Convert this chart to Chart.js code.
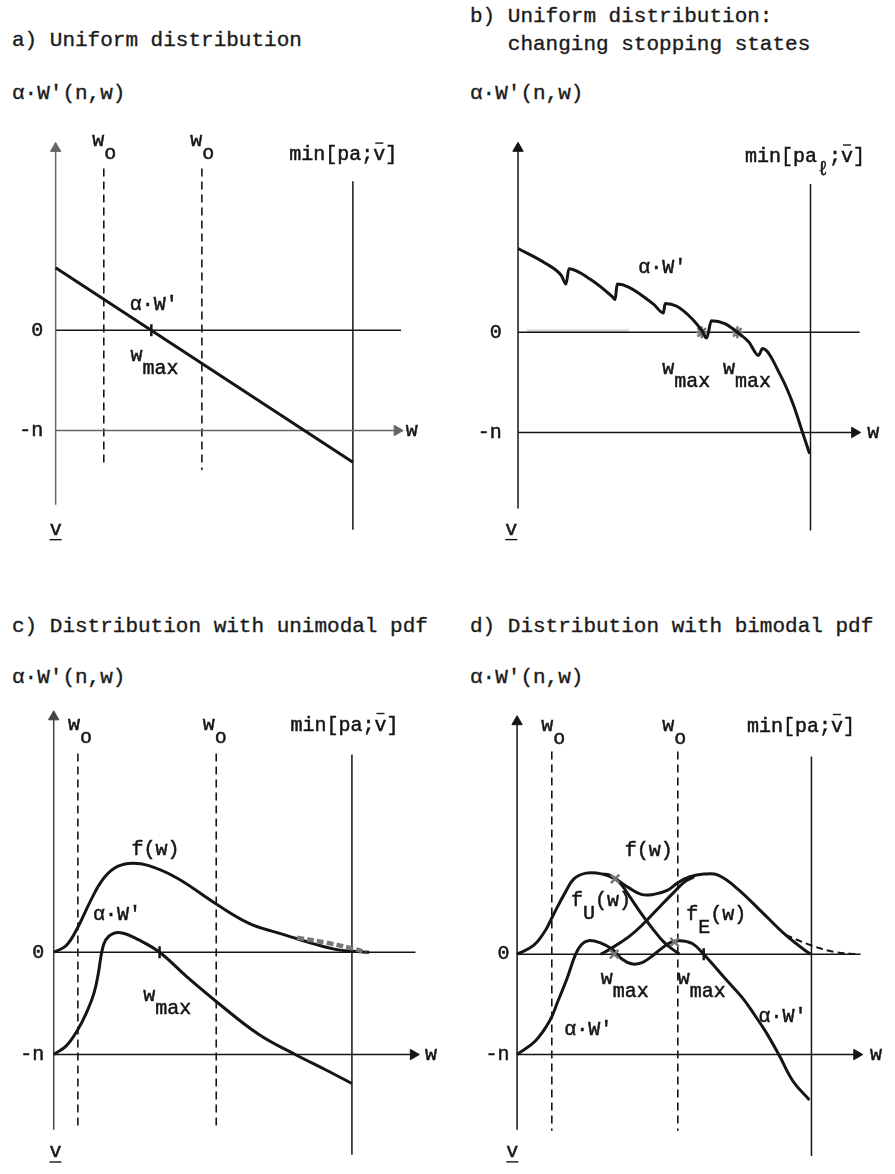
<!DOCTYPE html>
<html>
<head>
<meta charset="utf-8">
<script src="https://cdn.jsdelivr.net/npm/chart.js@4.4.0/dist/chart.umd.min.js"></script>
<style>
  body { margin: 0; background: #fff; width: 895px; height: 1174px; position: relative; overflow: hidden;
         font-family: "Liberation Mono", "Courier New", monospace; color: #1a1a1a; }
  .t { position: absolute; font-size: 21px; line-height: 24px; white-space: pre; -webkit-text-stroke: 0.35px #1a1a1a; }
  canvas { position: absolute; }
</style>
</head>
<body>
<div class="t" style="left:12px; top:29px">a) Uniform distribution</div>
<div class="t" style="left:470px; top:5px">b) Uniform distribution:</div>
<div class="t" style="left:470px; top:33px">   changing stopping states</div>
<div class="t" style="left:12px; top:82px">α·W'(n,w)</div>
<div class="t" style="left:470px; top:82px">α·W'(n,w)</div>
<div class="t" style="left:12px; top:615px">c) Distribution with unimodal pdf</div>
<div class="t" style="left:470px; top:615px">d) Distribution with bimodal pdf</div>
<div class="t" style="left:12px; top:666px">α·W'(n,w)</div>
<div class="t" style="left:470px; top:666px">α·W'(n,w)</div>

<canvas id="chartA" width="447" height="460" style="left:0; top:110px"></canvas>
<canvas id="chartB" width="448" height="460" style="left:447px; top:110px"></canvas>
<canvas id="chartC" width="447" height="484" style="left:0; top:690px"></canvas>
<canvas id="chartD" width="448" height="484" style="left:447px; top:690px"></canvas>

<script>
// w is measured so that the v-axis is 0 and min[pa;v] is 1; y so that 0 is 0 and -n is -1

// a) uniform distribution
const aWx = [0, 1];
const aWy = [0.625, -1.317];
const aWo = [0.162, 0.492];
const aWmax = [0.322];

// b) changing stopping states (saw-tooth curve)
const bWx = [0.000, 0.092, 0.148, 0.164, 0.174, 0.247, 0.322, 0.332, 0.339, 0.378, 0.464, 0.497, 0.503,
             0.543, 0.595, 0.628, 0.645, 0.661, 0.707, 0.750, 0.789, 0.822, 0.836, 0.898, 0.941, 0.974, 0.997];
const bWy = [0.837, 0.692, 0.567, 0.481, 0.635, 0.529, 0.356, 0.327, 0.481, 0.452, 0.279, 0.192, 0.288,
             0.260, 0.135, 0.019, -0.058, 0.115, 0.087, 0.000, -0.096, -0.231, -0.163, -0.433, -0.721, -1.010, -1.212];
const bWmax = [0.628, 0.750];

// c) unimodal pdf
const cFx = [0, 0.042, 0.081, 0.123, 0.161, 0.203, 0.252, 0.316, 0.413, 0.545, 0.655, 0.752, 0.816, 0.881, 0.945, 1.0, 1.058];
const cFy = [0, 0.066, 0.245, 0.5, 0.698, 0.821, 0.868, 0.849, 0.726, 0.472, 0.283, 0.189, 0.132, 0.075, 0.028, 0.009, 0];
const cTailX = [0.816, 0.913, 1.0, 1.048];
const cTailY = [0.142, 0.094, 0.038, 0];
const cWx = [0, 0.042, 0.081, 0.110, 0.135, 0.150, 0.161, 0.174, 0.197, 0.229, 0.284, 0.355, 0.445, 0.545, 0.687, 0.810, 0.913, 1.0];
const cWy = [-1, -0.915, -0.755, -0.590, -0.400, -0.200, 0, 0.120, 0.179, 0.189, 0.123, 0, -0.236, -0.481, -0.802, -1, -1.151, -1.283];
const cWo = [0.081, 0.545];
const cWmax = [0.355];

// d) bimodal pdf
const dFx = [0, 0.056, 0.095, 0.114, 0.137, 0.160, 0.193, 0.235, 0.291, 0.333, 0.379, 0.422, 0.464, 0.510,
             0.546, 0.585, 0.634, 0.683, 0.748, 0.837, 0.912, 0.987, 1.0];
const dFy = [0, 0.087, 0.231, 0.337, 0.471, 0.596, 0.750, 0.808, 0.798, 0.750, 0.663, 0.596, 0.596, 0.635,
             0.712, 0.769, 0.798, 0.788, 0.654, 0.404, 0.192, 0.019, 0];
const dFuX = [0.291, 0.314, 0.346, 0.382, 0.422, 0.464, 0.497, 0.529, 0.552];
const dFuY = [0.798, 0.788, 0.721, 0.577, 0.404, 0.240, 0.125, 0.048, 0];
const dFeX = [0.284, 0.314, 0.379, 0.431, 0.487, 0.529, 0.569, 0.601];
const dFeY = [0, 0.048, 0.173, 0.308, 0.481, 0.606, 0.721, 0.769];
const dTailX = [0.912, 1.0, 1.085, 1.157];
const dTailY = [0.192, 0.087, 0.019, 0];
const dWx = [0, 0.062, 0.111, 0.137, 0.170, 0.199, 0.219, 0.242, 0.281, 0.324, 0.356, 0.389, 0.422, 0.454, 0.487,
             0.520, 0.552, 0.595, 0.634, 0.709, 0.765, 0.807, 0.846, 0.889, 0.938, 0.993];
const dWy = [-1, -0.865, -0.663, -0.481, -0.240, 0, 0.096, 0.135, 0.115, 0.048, -0.048, -0.096, -0.087, -0.029, 0.048,
             0.115, 0.135, 0.106, 0, -0.250, -0.433, -0.606, -0.779, -1, -1.269, -1.452];
const dWo = [0.118, 0.546];
const dWmax = [0.634];
const dGrayMarksX = [0.330, 0.535, 0.333];
const dGrayMarksY = [0, 0.120, 0.750];

const FONT = '20px "Liberation Mono", "Courier New", monospace';
const INK = '#151515';

function pts(xs, ys) {
    return xs.map((x, i) => ({ x: x, y: ys[i] }));
}

// smooth curve through the read points
function curve(xs, ys, extra) {
    return Object.assign({ data: pts(xs, ys), borderColor: INK, borderWidth: 3, tension: 0.4 }, extra);
}

function seg(x1, y1, x2, y2, extra) {
    return Object.assign({ data: [{ x: x1, y: y1 }, { x: x2, y: y2 }], borderColor: INK, borderWidth: 1.5 }, extra);
}

// line with a filled triangle at its end point
function arrow(x1, y1, x2, y2, rot, color) {
    return seg(x1, y1, x2, y2, {
        borderColor: color, pointRadius: [0, 6], pointStyle: 'triangle', pointRotation: rot,
        pointBackgroundColor: color, pointBorderColor: color, pointBorderWidth: 1
    });
}

function dashed(x, yTop, yBottom) {
    return seg(x, yTop, x, yBottom, { borderDash: [8, 5], borderWidth: 1.6 });
}

function ticks(xs, ys, color, style) {
    return {
        data: pts(xs, ys), showLine: false, pointStyle: style || 'line', pointRotation: style ? 0 : 90,
        pointRadius: 6, pointBorderWidth: 2.5, pointBorderColor: color || INK, pointBackgroundColor: color || INK
    };
}

// text helpers: parts are drawn one after another, subscripts lower
function T(x, y, text, align) { return { x: x, y: y, align: align, parts: [{ t: text }] }; }
function Wsub(x, y, sub) { return { x: x, y: y, parts: [{ t: 'w' }, { t: sub, sub: true }] }; }
function V(x, y) { return { x: x, y: y, align: 'center', parts: [{ t: 'v', under: true }] }; }

const labelPlugin = {
    id: 'panelLabels',
    afterDraw(chart, args, opts) {
        const ctx = chart.ctx, sx = chart.scales.x, sy = chart.scales.y;
        ctx.save();
        ctx.font = FONT;
        ctx.fillStyle = INK;
        ctx.strokeStyle = INK;
        ctx.textBaseline = 'middle';
        ctx.textAlign = 'left';
        (opts.items || []).forEach(item => {
            let total = 0;
            item.parts.forEach(p => total += ctx.measureText(p.t).width);
            let px = sx.getPixelForValue(item.x);
            const py = sy.getPixelForValue(item.y);
            if (item.align === 'right') px -= total;
            if (item.align === 'center') px -= total / 2;
            item.parts.forEach(p => {
                const w = ctx.measureText(p.t).width;
                const ty = py + (p.sub ? 13 : 0);
                ctx.lineWidth = 0.5;
                ctx.fillText(p.t, px, ty);
                ctx.strokeText(p.t, px, ty);
                ctx.lineWidth = 1.4;
                if (p.bar !== undefined) {
                    const bx = px + ctx.measureText(p.t.slice(0, p.bar)).width;
                    const cw = ctx.measureText(p.t[p.bar]).width;
                    ctx.beginPath(); ctx.moveTo(bx + 2, ty - 12); ctx.lineTo(bx + cw - 2, ty - 12); ctx.stroke();
                }
                if (p.under) {
                    ctx.beginPath(); ctx.moveTo(px, ty + 10); ctx.lineTo(px + w, ty + 10); ctx.stroke();
                }
                px += w;
            });
        });
        ctx.restore();
    }
};

// anchors in page pixels: canvas box, pixel of w=0 / w=1, pixel of 0 / -n
function makeChart(id, a, datasets, items) {
    const ux = a.x1 - a.x0, uy = a.yn - a.y0;
    return new Chart(document.getElementById(id), {
        type: 'scatter',
        data: { datasets: datasets.map(d => Object.assign({ showLine: true, fill: false, pointRadius: 0 }, d)) },
        options: {
            responsive: false,
            animation: false,
            events: [],
            layout: { padding: 0 },
            plugins: { legend: { display: false }, tooltip: { enabled: false }, panelLabels: { items: items } },
            scales: {
                x: { type: 'linear', display: false, min: (a.left - a.x0) / ux, max: (a.left + a.width - a.x0) / ux },
                y: { type: 'linear', display: false, min: (a.y0 - (a.top + a.height)) / uy, max: (a.y0 - a.top) / uy }
            }
        },
        plugins: [labelPlugin]
    });
}

// ---- a) ----
makeChart('chartA', { left: 0, top: 110, width: 447, height: 460, x0: 49, x1: 358, y0: 330, yn: 434 }, [
    curve(aWx, aWy, { tension: 0 }),
    ticks(aWmax, [0]),
    arrow(0, -1.74, 0, 1.817, 0, '#666'),
    seg(0, 0, 1.162, 0),
    arrow(0, -1, 1.149, -1, 90, '#666'),
    dashed(aWo[0], 1.615, -1.346),
    dashed(aWo[1], 1.615, -1.394),
    seg(1, 1.49, 1, -1.99)
], [
    T(-0.042, 0, '0', 'right'), T(-0.042, -1, '-n', 'right'), T(1.178, -1, 'w'), V(0, -1.99),
    T(0.249, 0.26, "α·W'"), Wsub(0.252, -0.25, 'max'),
    Wsub(0.123, 1.894, 'o'), Wsub(0.453, 1.894, 'o'),
    { x: 0.786, y: 1.75, parts: [{ t: 'min[pa;v]', bar: 7 }] }
]);

// ---- b) ----
makeChart('chartB', { left: 447, top: 110, width: 448, height: 460, x0: 512, x1: 816, y0: 332, yn: 436 }, [
    curve(bWx, bWy, { tension: 0, cubicInterpolationMode: 'monotone' }),
    ticks(bWmax, [0, 0], '#777', 'star'),
    seg(0.03, 0.012, 0.38, 0.012, { borderColor: 'rgba(0,0,0,0.13)', borderWidth: 4 }),
    arrow(0, -1.76, 0, 1.837, 0, INK),
    seg(0, 0, 1.168, 0),
    arrow(0, -1, 1.151, -1, 90, INK),
    seg(1, 1.48, 1, -1.98)
], [
    T(-0.056, 0, '0', 'right'), T(-0.056, -1, '-n', 'right'), T(1.194, -1, 'w'), V(-0.023, -1.97),
    T(0.411, 0.644, "α·W'"), Wsub(0.493, -0.365, 'max'), Wsub(0.701, -0.365, 'max'),
    { x: 0.776, y: 1.75, parts: [{ t: 'min[pa' }, { t: 'ℓ', sub: true }, { t: ';v]', bar: 1 }] }
]);

// ---- c) ----
makeChart('chartC', { left: 0, top: 690, width: 447, height: 484, x0: 47, x1: 357, y0: 953, yn: 1059 }, [
    curve(cTailX, cTailY, { borderColor: '#777', borderWidth: 4.5, borderDash: [7, 3] }),
    curve(cFx, cFy),
    curve(cWx, cWy),
    ticks(cWmax, [0]),
    arrow(0, -1.736, 0, 2.302, 0, '#444'),
    seg(0, 0, 1.213, 0),
    arrow(0, -1, 1.206, -1, 90, INK),
    dashed(cWo[0], 1.943, -1.736),
    dashed(cWo[1], 1.943, -1.736),
    seg(1, 1.934, 1, -1.981)
], [
    T(-0.032, 0, '0', 'right'), T(-0.032, -1, '-n', 'right'), T(1.245, -1, 'w'), V(0.006, -1.953),
    T(0.261, 1.0, 'f(w)'), T(0.132, 0.368, "α·W'"), Wsub(0.3, -0.425, 'max'),
    Wsub(0.048, 2.226, 'o'), Wsub(0.5, 2.226, 'o'),
    { x: 0.794, y: 2.217, parts: [{ t: 'min[pa;v]', bar: 7 }] }
]);

// ---- d) ----
makeChart('chartD', { left: 447, top: 690, width: 448, height: 484, x0: 511, x1: 817, y0: 955, yn: 1059 }, [
    ticks(dGrayMarksX, dGrayMarksY, '#777', 'crossRot'),
    curve(dFx, dFy),
    curve(dFuX, dFuY),
    curve(dFeX, dFeY),
    curve(dTailX, dTailY, { borderWidth: 2, borderDash: [7, 4] }),
    curve(dWx, dWy),
    ticks(dWmax, [0]),
    arrow(0, -1.75, 0, 2.317, 0, INK),
    seg(0, 0, 1.167, 0),
    arrow(0, -1, 1.154, -1, 90, INK),
    dashed(dWo[0], 2.019, -1.76),
    dashed(dWo[1], 2.019, -1.76),
    seg(1, 1.971, 1, -2.01)
], [
    T(-0.026, 0, '0', 'right'), T(-0.026, -1, '-n', 'right'), T(1.199, -1, 'w'), V(-0.016, -1.97),
    T(0.366, 1.03, 'f(w)'),
    { x: 0.183, y: 0.538, parts: [{ t: 'f' }, { t: 'U', sub: true }, { t: '(w)' }] },
    { x: 0.575, y: 0.394, parts: [{ t: 'f' }, { t: 'E', sub: true }, { t: '(w)' }] },
    Wsub(0.284, -0.24, 'max'), Wsub(0.546, -0.24, 'max'),
    T(0.160, -0.75, "α·W'"), T(0.820, -0.625, "α·W'"),
    Wsub(0.082, 2.279, 'o'), Wsub(0.493, 2.279, 'o'),
    { x: 0.781, y: 2.269, parts: [{ t: 'min[pa;v]', bar: 7 }] }
]);
</script>
</body>
</html>
